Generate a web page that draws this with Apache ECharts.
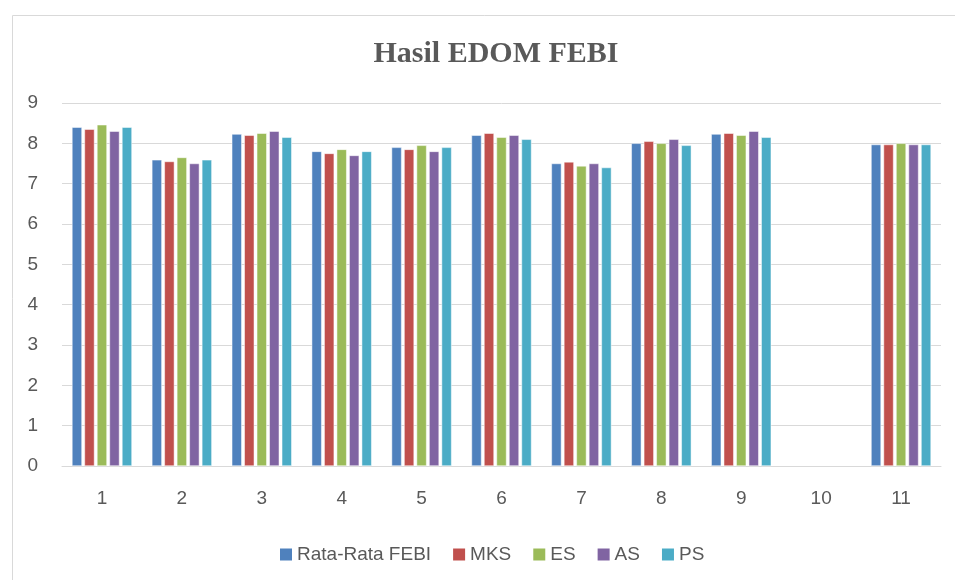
<!DOCTYPE html>
<html>
<head>
<meta charset="utf-8">
<script src="https://cdn.jsdelivr.net/npm/echarts@6/dist/echarts.min.js"></script>
<style>html,body{margin:0;padding:0;background:#fff;}#c{width:955px;height:580px;}</style>
</head>
<body>
<div id="c"></div>
<script>
var categories = ['1','2','3','4','5','6','7','8','9','10','11'];
var rataRata = [8.40, 7.59, 8.23, 7.80, 7.90, 8.20, 7.50, 8.00, 8.23, null, 7.97];
var mks      = [8.35, 7.55, 8.20, 7.75, 7.85, 8.25, 7.54, 8.05, 8.25, null, 7.97];
var es       = [8.46, 7.65, 8.25, 7.85, 7.95, 8.15, 7.44, 8.00, 8.20, null, 8.00];
var as       = [8.30, 7.50, 8.30, 7.70, 7.80, 8.20, 7.50, 8.10, 8.30, null, 7.97];
var ps       = [8.40, 7.59, 8.15, 7.80, 7.90, 8.10, 7.40, 7.95, 8.15, null, 7.97];
var seriesNames = ['Rata-Rata FEBI','MKS','ES','AS','PS'];
var seriesData = [rataRata, mks, es, as, ps];
var colors = ['#4F81BD','#C0504D','#9BBB59','#8064A2','#4BACC6'];

var chart = echarts.init(document.getElementById('c'), null, {renderer:'canvas'});
chart.setOption({
  animation: false,
  color: colors,
  graphic: [{
    type: 'rect', left: 10, top: 13,
    shape: {width: 960, height: 580},
    style: {fill: 'none', stroke: '#d9d9d9', lineWidth: 1}
  }],
  title: {
    text: 'Hasil EDOM FEBI',
    left: 491, top: 34, textAlign: 'center',
    textStyle: {fontFamily: 'Liberation Serif', fontWeight: 'bold', fontSize: 30, color: '#595959'}
  },
  legend: {
    data: seriesNames,
    left: 273, top: 540,
    itemWidth: 14, itemHeight: 14, itemGap: 20,
    icon: 'rect',
    textStyle: {fontFamily: 'Liberation Sans', fontSize: 19, color: '#595959', padding: [0,0,0,-1]}
  },
  grid: {left: 62, right: 14, top: 103, bottom: 114, containLabel: false},
  xAxis: {
    type: 'category', data: categories,
    axisLine: {lineStyle: {color: '#d9d9d9', width: 1}},
    axisTick: {show: false},
    axisLabel: {color: '#595959', fontFamily: 'Liberation Sans', fontSize: 19, margin: 23}
  },
  yAxis: {
    type: 'value', min: 0, max: 9, interval: 1,
    axisLine: {show: false}, axisTick: {show: false},
    splitLine: {lineStyle: {color: '#d9d9d9', width: 1}},
    axisLabel: {color: '#595959', fontFamily: 'Liberation Sans', fontSize: 19, margin: 24}
  },
  series: seriesNames.map(function(n, i){
    return {
      name: n, type: 'bar', data: seriesData[i],
      barWidth: 10, barGap: '25%',
      itemStyle: {color: colors[i], borderColor: '#ffffff', borderWidth: 0.5}
    };
  })
});
</script>
</body>
</html>
